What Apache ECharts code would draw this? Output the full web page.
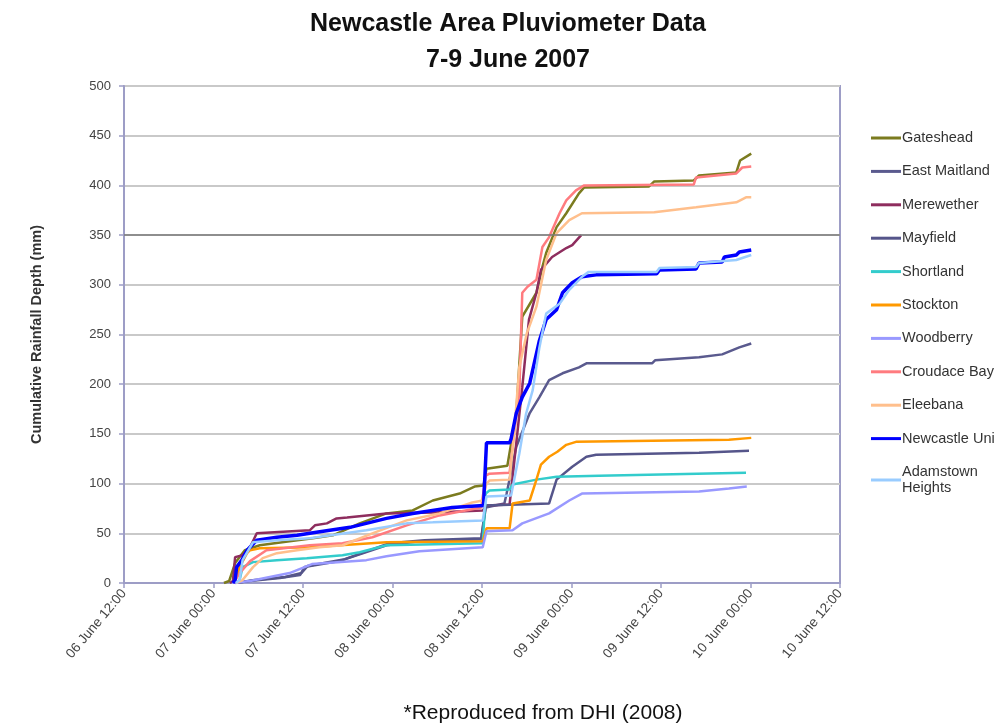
<!DOCTYPE html>
<html>
<head>
<meta charset="utf-8">
<title>Newcastle Area Pluviometer Data</title>
<script src="https://cdn.jsdelivr.net/npm/echarts@6/dist/echarts.min.js"></script>
<style>
  html, body { margin: 0; padding: 0; background: #fff; }
  #chart { width: 1000px; height: 727px; }
</style>
</head>
<body>
<div id="chart"></div>
<script>
// Time is in hours after 06 June 2007 12:00; values are cumulative rainfall (mm).
const tickLabels = ['06 June 12:00', '07 June 00:00', '07 June 12:00', '08 June 00:00',
  '08 June 12:00', '09 June 00:00', '09 June 12:00', '10 June 00:00', '10 June 12:00'];

const stations = ['Gateshead', 'East Maitland', 'Merewether', 'Mayfield', 'Shortland',
  'Stockton', 'Woodberry', 'Croudace Bay', 'Eleebana', 'Newcastle Uni', 'Adamstown Heights'];

const gateshead = [[13.4,0],[14.1,2],[14.9,20],[16.2,33],[18.2,38],[22.2,42],[25.3,45],[28.0,48],
  [31.6,60],[35.2,70],[38.7,73],[41.4,83],[45.0,90],[47.0,97],[48.2,98],[48.6,115],[51.4,118],
  [52.6,171],[53.4,268],[55.3,292],[56.1,318],[56.6,332],[58.0,358],[59.3,372],[61.0,392],
  [61.7,398],[70.4,399],[71.1,404],[76.4,405],[77.1,410],[82.1,413],[82.6,425],[84.1,432]];

const eastMaitland = [[14.9,0],[16.9,2],[20.9,5],[23.6,8],[24.2,16],[28.9,22],[35.2,38],[39.6,42],
  [47.9,44],[48.5,76],[51.0,80],[51.3,90],[52.6,137],[54.4,171],[55.7,187],[57.0,204],[58.8,211],
  [61.0,217],[62.0,221],[70.8,221],[71.2,224],[77.1,227],[80.2,230],[82.5,237],[84.1,241]];

const merewether = [[14.2,0],[14.6,2],[14.9,26],[15.9,28],[16.9,36],[17.8,50],[24.9,53],[25.6,58],
  [27.2,60],[28.5,65],[29.9,66],[35.2,70],[41.4,71],[48.1,73],[48.6,78],[51.7,79],[52.3,120],
  [53.4,197],[54.3,265],[55.3,292],[55.9,315],[57.4,328],[59.3,337],[60.1,340],[61.3,350]];

const mayfield = [[14.9,0],[17.5,3],[21.6,6],[23.8,10],[24.6,17],[29.6,24],[35.6,40],[40.3,43],
  [47.9,45],[48.5,78],[57.0,80],[58.0,104],[60.1,117],[62.0,127],[63.3,129],[77.1,131],[83.8,133]];

const shortland = [[15.1,0],[15.5,3],[15.9,16],[17.3,21],[20.5,23],[24.5,25],[29.3,28],[31.6,31],
  [35.2,38],[48.1,40],[48.5,90],[49.0,93],[51.7,94],[52.1,99],[55.3,104],[58.0,107],[63.7,108],
  [83.4,111]];

const stockton = [[14.7,0],[15.1,6],[15.5,16],[16.5,30],[16.9,33],[18.2,35],[24.9,36],[35.2,41],
  [48.1,42],[48.6,55],[51.7,55],[52.1,80],[54.4,83],[55.3,104],[55.9,119],[57.0,127],[58.1,132],
  [59.3,139],[60.6,142],[81.1,144],[84.1,146]];

const woodberry = [[14.5,0],[16.9,2],[22.2,10],[24.2,16],[25.2,19],[32.5,23],[35.2,27],[39.6,32],
  [48.1,36],[48.6,52],[52.1,53],[53.4,60],[57.0,70],[59.7,83],[61.4,90],[77.1,92],[81.1,95],
  [83.5,97]];

const croudaceBay = [[14.7,0],[15.5,10],[16.9,22],[19.1,33],[24.9,38],[29.3,40],[33.3,46],[37.9,58],
  [42.3,68],[47.9,76],[48.5,108],[49.0,110],[51.7,111],[52.3,150],[53.0,191],[53.4,292],[54.1,298],
  [55.3,305],[56.1,338],[57.0,348],[58.4,372],[59.3,385],[60.6,395],[61.7,400],[76.4,401],
  [76.7,408],[82.1,412],[82.9,418],[84.1,419]];

const eleebana = [[15.0,0],[15.9,3],[17.3,16],[18.6,25],[20.5,30],[23.2,33],[26.2,36],[29.3,38],
  [33.3,50],[37.9,63],[42.3,70],[46.7,81],[48.1,83],[48.6,100],[49.0,103],[51.7,104],[52.3,150],
  [53.0,217],[54.0,251],[55.3,278],[56.6,325],[58.0,352],[59.7,365],[61.4,372],[71.1,373],
  [76.7,378],[82.1,383],[83.4,388],[84.1,388]];

const newcastleUni = [[14.6,0],[14.9,3],[15.1,16],[15.8,23],[16.5,33],[17.8,43],[20.5,46],[23.2,48],
  [25.8,51],[27.6,53],[30.3,56],[35.2,65],[38.7,70],[44.0,76],[48.2,78],[48.6,141],[51.7,141],
  [51.9,145],[52.6,171],[53.4,187],[54.4,201],[55.7,244],[56.6,265],[58.0,275],[58.8,292],
  [60.1,302],[61.4,308],[63.3,310],[71.4,311],[71.8,315],[76.7,316],[77.1,322],[80.2,323],
  [80.5,328],[82.1,330],[82.5,333],[84.1,335]];

const adamstownHeights = [[15.0,0],[15.5,3],[15.9,23],[17.3,41],[20.5,43],[24.9,45],[32.5,53],
  [37.9,60],[41.4,61],[48.1,63],[48.6,87],[51.9,88],[53.0,130],[53.9,170],[54.8,194],[55.7,237],
  [56.6,271],[58.4,281],[59.7,295],[61.4,308],[62.3,313],[71.4,313],[71.8,317],[76.7,318],
  [77.1,322],[82.1,325],[84.1,330]];

const seriesData = [gateshead, eastMaitland, merewether, mayfield, shortland, stockton,
  woodberry, croudaceBay, eleebana, newcastleUni, adamstownHeights];

const colors = ['#7b7b1f', '#5a5a8e', '#8e2d5e', '#55558a', '#33cccc', '#ff9900',
  '#9999ff', '#ff7b7f', '#ffbf8c', '#0000ff', '#99ccff'];

const FONT = '"Liberation Sans", Arial, sans-serif';

const series = stations.map((name, i) => {
  const s = {
    name: name,
    type: 'line',
    data: seriesData[i],
    symbol: 'none',
    lineStyle: { width: name === 'Newcastle Uni' ? 3.5 : 2.5, color: colors[i] },
    itemStyle: { color: colors[i] },
    z: 3
  };
  if (i === 0) {
    // darker reference line at 350 mm
    s.markLine = {
      silent: true,
      symbol: 'none',
      label: { show: false },
      lineStyle: { color: '#7a7a7a', width: 1.5, type: 'solid' },
      data: [{ yAxis: 350 }]
    };
  }
  return s;
});

const chart = echarts.init(document.getElementById('chart'));
chart.setOption({
  animation: false,
  backgroundColor: '#ffffff',
  color: colors,
  title: [
    {
      text: 'Newcastle Area Pluviometer Data\n7-9 June 2007',
      left: 503,
      top: 1,
      textAlign: 'center',
      textStyle: { fontFamily: FONT, fontSize: 25, fontWeight: 'bold', color: '#111', lineHeight: 36 }
    },
    {
      text: '*Reproduced from DHI (2008)',
      left: 538,
      top: 698,
      textAlign: 'center',
      textStyle: { fontFamily: FONT, fontSize: 21, fontWeight: 'normal', color: '#111' }
    }
  ],
  legend: {
    orient: 'vertical',
    left: 866,
    top: 125,
    itemWidth: 30,
    itemHeight: 3,
    itemGap: 17.4,
    icon: 'rect',
    data: stations,
    formatter: n => n === 'Adamstown Heights' ? 'Adamstown\nHeights' : n,
    textStyle: { fontFamily: FONT, fontSize: 14.5, color: '#333', lineHeight: 16, padding: [0, 0, 0, -4] }
  },
  grid: {
    left: 124, right: 160, top: 86, bottom: 144,
    show: true,
    borderColor: '#9d9dc6',
    borderWidth: 2,
    containLabel: false
  },
  xAxis: {
    type: 'value',
    min: 0,
    max: 96,
    interval: 12,
    axisLine: { show: true, lineStyle: { color: '#9d9dc6', width: 2 } },
    axisTick: { show: true, length: 5, lineStyle: { color: '#9d9dc6', width: 1.5 } },
    splitLine: { show: false },
    axisLabel: {
      rotate: 50,
      margin: 8,
      fontFamily: FONT,
      fontSize: 13.5,
      color: '#444',
      formatter: v => tickLabels[Math.round(v / 12)]
    }
  },
  yAxis: {
    type: 'value',
    min: 0,
    max: 500,
    interval: 50,
    name: 'Cumulative Rainfall Depth (mm)',
    nameLocation: 'middle',
    nameGap: 80,
    nameTextStyle: { fontFamily: FONT, fontSize: 14.5, fontWeight: 'bold', color: '#333' },
    axisLine: { show: true, lineStyle: { color: '#9d9dc6', width: 2 } },
    axisTick: { show: true, length: 5, lineStyle: { color: '#9d9dc6', width: 1.5 } },
    splitLine: { show: true, lineStyle: { color: '#c9c9c9', width: 2 } },
    axisLabel: { margin: 13, fontFamily: FONT, fontSize: 13, color: '#444' }
  },
  series: series
});
</script>
</body>
</html>
